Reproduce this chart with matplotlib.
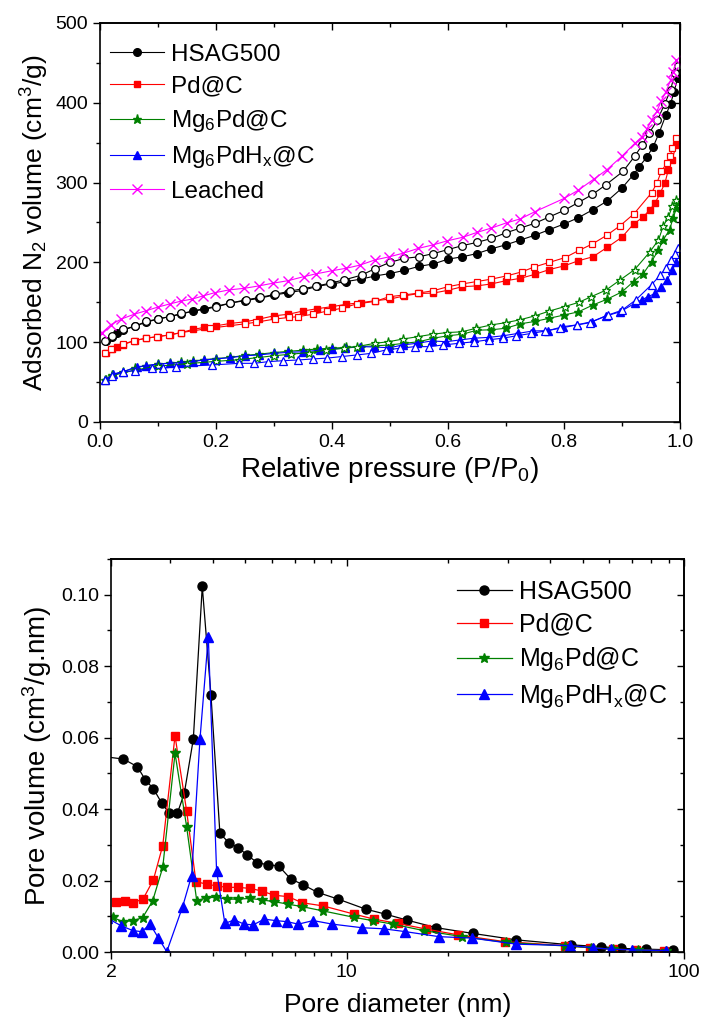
import numpy as np
import matplotlib
matplotlib.use('Agg')
from matplotlib import pyplot as plt
from matplotlib.ticker import MultipleLocator, FixedLocator, NullFormatter, FixedFormatter

plt.rcParams['font.family'] = ['Liberation Sans', 'DejaVu Sans']
plt.rcParams['mathtext.default'] = 'regular'

# ---- N2 isotherms (top) ----
hsag_ads_p = [0.01, 0.02, 0.03, 0.04, 0.06, 0.08, 0.10, 0.12, 0.14, 0.16, 0.18, 0.20, 0.225, 0.25, 0.275, 0.30,
              0.325, 0.35, 0.375, 0.40, 0.425, 0.45, 0.475, 0.50, 0.525, 0.55, 0.575, 0.60, 0.625, 0.65, 0.675,
              0.70, 0.725, 0.75, 0.775, 0.80, 0.825, 0.85, 0.875, 0.90, 0.92, 0.93, 0.943, 0.954, 0.964, 0.976,
              0.984, 0.99, 0.996]
hsag_ads_v = [101, 107, 111, 115, 120, 125, 129, 132, 135, 139, 142, 145, 149, 152, 155, 159,
              162, 165, 170, 173, 176, 179, 183, 186, 190, 195, 198, 204, 207, 211, 217,
              222, 228, 234, 241, 248, 256, 266, 277, 293, 310, 320, 332, 345, 362, 385,
              399, 414, 431]
hsag_des_p = [0.996, 0.991, 0.984, 0.974, 0.961, 0.947, 0.935, 0.922, 0.902, 0.872, 0.849, 0.825, 0.80, 0.775,
              0.75, 0.725, 0.70, 0.675, 0.65, 0.625, 0.60, 0.575, 0.55, 0.525, 0.50, 0.474, 0.451, 0.421, 0.397,
              0.372, 0.35, 0.328, 0.302, 0.276, 0.251, 0.225, 0.20, 0.14, 0.12, 0.10, 0.08, 0.06, 0.04, 0.02, 0.009]
hsag_des_v = [446, 437, 416, 399, 378, 362, 347, 333, 314, 297, 285, 275, 265, 257,
              249, 243, 237, 230, 225, 221, 216, 211, 207, 205, 200, 192, 184, 178, 174,
              170, 167, 164, 160, 156, 153, 149, 144, 136, 132, 129, 126, 120, 116, 108, 101]

pd_ads_p = [0.01, 0.02, 0.03, 0.04, 0.06, 0.08, 0.10, 0.12, 0.14, 0.16, 0.18, 0.20, 0.225, 0.25, 0.275, 0.30,
            0.325, 0.35, 0.375, 0.40, 0.425, 0.45, 0.475, 0.50, 0.525, 0.55, 0.575, 0.60, 0.625, 0.65, 0.675,
            0.70, 0.725, 0.75, 0.775, 0.80, 0.825, 0.85, 0.875, 0.90, 0.92, 0.937, 0.948, 0.957, 0.966, 0.974,
            0.98, 0.986, 0.994]
pd_ads_v = [86, 91, 94, 97, 102, 105, 107, 109, 112, 116, 118.5, 120.5, 123.5, 125.5, 129, 133,
            135, 139, 142, 144.5, 147.5, 149.5, 152, 154, 158, 161, 161.5, 165, 169.5, 170.5, 173,
            177, 180, 185, 191, 195.5, 202, 207, 219, 231.5, 248, 257, 266, 274, 287, 299,
            316, 328, 347]
pd_des_p = [0.994, 0.987, 0.983, 0.977, 0.968, 0.96, 0.951, 0.921, 0.897, 0.874, 0.849, 0.826, 0.802, 0.775,
            0.748, 0.727, 0.701, 0.675, 0.65, 0.625, 0.60, 0.575, 0.549, 0.523, 0.499, 0.474, 0.443, 0.417,
            0.392, 0.367, 0.342, 0.326, 0.302, 0.269, 0.25, 0.19, 0.14, 0.119, 0.099, 0.08, 0.059, 0.04,
            0.019, 0.009]
pd_des_v = [356, 343, 333, 324, 314, 299, 287, 261, 246, 234, 223, 215, 206, 200,
            194, 188, 183, 179, 176, 173, 169.5, 164.5, 161.5, 159, 157, 151, 148, 142.5,
            139, 135, 132, 131, 129, 125, 123, 117.5, 112, 109, 107, 105, 102, 97.5,
            91, 86]

mg_ads_p = [0.01, 0.02, 0.04, 0.06, 0.08, 0.10, 0.12, 0.14, 0.16, 0.18, 0.20, 0.225, 0.25, 0.275, 0.30,
            0.325, 0.35, 0.375, 0.40, 0.425, 0.45, 0.475, 0.50, 0.525, 0.55, 0.575, 0.60, 0.625, 0.65, 0.675,
            0.70, 0.725, 0.75, 0.775, 0.80, 0.825, 0.85, 0.875, 0.90, 0.92, 0.937, 0.951, 0.963, 0.971, 0.982,
            0.988, 0.994, 0.997]
mg_ads_v = [52, 59, 63, 68, 70.5, 72.5, 74, 75, 76.5, 78, 79.5, 81, 83.5, 85, 87,
            88.5, 90, 91.5, 92.5, 93.5, 94.5, 95.5, 96.5, 98.6, 100.6, 105, 108, 110, 115, 115.5,
            117.5, 123, 126, 130, 134, 138, 146.6, 154, 163, 176, 186, 201, 215.5, 228, 240.6,
            255, 268, 274]
mg_des_p = [0.993, 0.987, 0.98, 0.971, 0.963, 0.948, 0.922, 0.897, 0.872, 0.847, 0.826, 0.801, 0.775, 0.75,
            0.724, 0.70, 0.674, 0.649, 0.624, 0.598, 0.574, 0.549, 0.523, 0.497, 0.474, 0.443, 0.42, 0.39,
            0.36, 0.33, 0.30, 0.27, 0.24, 0.20, 0.15, 0.10, 0.06, 0.02, 0.009]
mg_des_v = [278, 270, 257, 245, 228, 213, 191, 178, 165, 157, 150, 144.5, 139, 133,
            128, 124.5, 121.5, 117.5, 113, 112, 110, 107, 104, 100.5, 98.6, 94.4, 92.4, 90,
            87, 85, 83, 80.5, 78, 76, 73, 70, 65, 58, 52]

mgh_ads_p = [0.009, 0.022, 0.04, 0.063, 0.08, 0.10, 0.12, 0.139, 0.16, 0.179, 0.20, 0.224, 0.25, 0.275, 0.30,
             0.325, 0.35, 0.38, 0.40, 0.422, 0.448, 0.472, 0.499, 0.522, 0.546, 0.572, 0.597, 0.621, 0.645,
             0.67, 0.695, 0.721, 0.746, 0.773, 0.798, 0.822, 0.848, 0.872, 0.897, 0.922, 0.934, 0.945, 0.957,
             0.968, 0.978, 0.987, 0.994]
mgh_ads_v = [52.6, 60, 63, 69, 70.6, 72.7, 73.5, 74.3, 75.6, 77.7, 79, 80.6, 83, 84, 86,
             87.3, 88, 90, 91.5, 92.4, 94.4, 94, 93, 96.5, 98.6, 101.5, 100.6, 102.8, 105,
             106, 108, 111, 114, 114.5, 119.4, 121.6, 125.7, 132.8, 138, 148.7, 153, 157, 161,
             169.6, 178, 190.5, 201]
mgh_des_p = [0.996, 0.991, 0.984, 0.976, 0.966, 0.951, 0.924, 0.90, 0.876, 0.845, 0.822, 0.793, 0.768, 0.744,
             0.718, 0.695, 0.67, 0.645, 0.619, 0.592, 0.568, 0.543, 0.517, 0.493, 0.468, 0.443, 0.417, 0.391,
             0.367, 0.342, 0.316, 0.29, 0.266, 0.24, 0.193, 0.131, 0.108, 0.089, 0.06, 0.04, 0.02, 0.009]
mgh_des_v = [218, 211, 203, 193, 184, 172, 153, 140, 134, 124.4, 121.6, 117.4, 114, 111,
             108, 105, 103, 100.5, 98.6, 96.5, 94.4, 94.4, 92.4, 90.2, 86, 84, 82, 80,
             79, 77.7, 76.8, 75.6, 73.5, 73.5, 71.4, 69.3, 67.3, 67.3, 64.3, 63, 58, 52.6]

leach_p = [0.004, 0.019, 0.037, 0.059, 0.08, 0.10, 0.121, 0.14, 0.159, 0.178, 0.198, 0.223, 0.249, 0.274,
           0.299, 0.324, 0.351, 0.372, 0.40, 0.424, 0.448, 0.474, 0.499, 0.523, 0.549, 0.575, 0.599, 0.626,
           0.65, 0.675, 0.701, 0.725, 0.75, 0.80, 0.825, 0.851, 0.874, 0.90, 0.922, 0.935, 0.943, 0.951,
           0.96, 0.968, 0.976, 0.984, 0.988, 0.994]
leach_v = [112, 122, 129, 135, 139.5, 144, 148, 151.5, 154, 158, 162, 165.5, 167.5, 170.5,
           174, 177, 182, 185.5, 189.5, 192.5, 196.5, 203, 207, 211.5, 217.5, 222, 227, 231.5,
           237.5, 243, 249.5, 254.5, 263.5, 280, 290.5, 304, 316, 333, 349, 357.5, 367, 378,
           389, 402.5, 414, 428.5, 439, 453.5]

# ---- pore size distribution (bottom) ----
hsag_d = [1.9, 2.175, 2.392, 2.527, 2.67, 2.83, 2.977, 3.144, 3.297, 3.507, 3.728, 3.955, 4.205, 4.47, 4.77,
          5.07, 5.43, 5.85, 6.28, 6.81, 7.43, 8.19, 9.43, 11.38, 13.03, 15.13, 18.44, 23.67, 31.8, 46.3,
          56.8, 65.1, 77.3, 92.6]
hsag_pv = [0.0547, 0.0540, 0.0519, 0.0482, 0.0457, 0.0416, 0.0388, 0.0388, 0.0444, 0.0596, 0.1023, 0.0720,
           0.0332, 0.0306, 0.0292, 0.0271, 0.0250, 0.0244, 0.0241, 0.0205, 0.0188, 0.0167, 0.0148, 0.0120,
           0.0106, 0.0089, 0.0068, 0.0052, 0.0034, 0.0020, 0.0015, 0.0010, 0.0008, 0.0006]
pd_d = [2.064, 2.2, 2.33, 2.49, 2.67, 2.846, 3.095, 3.35, 3.57, 3.84, 4.11, 4.42, 4.77, 5.16, 5.59, 6.08,
        6.70, 7.37, 8.51, 10.52, 12.05, 14.19, 17.23, 21.39, 29.4, 44.3, 52.5, 61.5, 72.1, 87.5]
pd_pv = [0.0140, 0.0144, 0.0138, 0.0149, 0.0202, 0.0298, 0.0605, 0.0395, 0.0197, 0.0190, 0.0185, 0.0181,
         0.0181, 0.0178, 0.0171, 0.0159, 0.0155, 0.0138, 0.0129, 0.0106, 0.0092, 0.0080, 0.0064, 0.0048,
         0.0029, 0.0018, 0.0012, 0.0008, 0.0006, 0.0004]
mg_d = [2.023, 2.166, 2.32, 2.48, 2.656, 2.846, 3.095, 3.35, 3.59, 3.82, 4.09, 4.42, 4.77, 5.16, 5.59, 6.08,
        6.70, 7.37, 8.51, 10.52, 11.92, 13.72, 16.9, 22.03, 29.6, 44.3, 53.1, 61.5, 72.9, 88.5]
mg_pv = [0.0097, 0.0085, 0.0088, 0.0096, 0.0143, 0.0237, 0.0556, 0.0351, 0.0143, 0.0152, 0.0153, 0.0148,
         0.0148, 0.0150, 0.0146, 0.0141, 0.0134, 0.0127, 0.0115, 0.0097, 0.0088, 0.0078, 0.0060, 0.0043,
         0.0027, 0.0017, 0.0012, 0.0008, 0.0006, 0.0004]
mgh_d = [1.95, 2.137, 2.32, 2.466, 2.61, 2.76, 2.925, 3.26, 3.467, 3.67, 3.885, 4.11, 4.35, 4.64, 4.96, 5.28,
         5.69, 6.15, 6.65, 7.18, 7.95, 9.07, 11.1, 12.87, 14.93, 18.77, 23.5, 31.8, 45.9, 53.7, 60.6, 70.3,
         88.5]
mgh_pv = [0.0095, 0.0074, 0.0060, 0.0057, 0.0078, 0.0040, 0.0001, 0.0127, 0.0214, 0.0596, 0.0883, 0.0228,
          0.0080, 0.0090, 0.0078, 0.0076, 0.0092, 0.0088, 0.0085, 0.0078, 0.0088, 0.0078, 0.0068, 0.0065,
          0.0057, 0.0043, 0.0039, 0.0022, 0.0018, 0.0012, 0.0008, 0.0006, 0.0004]

labels = ['HSAG500', 'Pd@C', 'Mg$_6$Pd@C', 'Mg$_6$PdH$_x$@C', 'Leached']
colors = ['black', 'red', 'green', 'blue', 'magenta']
markers = ['o', 's', '*', '^', 'x']
ms_top = [5.5, 5, 6.5, 5.5, 6.5]
ms_bot = [6.5, 5.5, 7.5, 6.5]

fig = plt.figure(figsize=(7.03, 10.26), dpi=100)

ax1 = fig.add_axes([0.1422, 0.5887, 0.825, 0.389])
iso = [(hsag_ads_p, hsag_ads_v, hsag_des_p, hsag_des_v),
       (pd_ads_p, pd_ads_v, pd_des_p, pd_des_v),
       (mg_ads_p, mg_ads_v, mg_des_p, mg_des_v),
       (mgh_ads_p, mgh_ads_v, mgh_des_p, mgh_des_v)]
for i, (ap, av, dp, dv) in enumerate(iso):
    ax1.plot(ap, av, color=colors[i], marker=markers[i], ms=ms_top[i], lw=0.8,
             mec=colors[i], mfc=colors[i], label=labels[i])
for i, (ap, av, dp, dv) in enumerate(iso):
    ax1.plot(dp, dv, color=colors[i], marker=markers[i], ms=ms_top[i], lw=0.8,
             mec=colors[i], mfc='white', mew=0.9)
ax1.plot(leach_p, leach_v, color=colors[4], marker='x', ms=ms_top[4], mew=1.0, lw=0.8, label=labels[4])

ax1.set_xlim(0, 1.0)
ax1.set_ylim(0, 500)
ax1.xaxis.set_major_locator(MultipleLocator(0.2))
ax1.xaxis.set_minor_locator(MultipleLocator(0.1))
ax1.yaxis.set_major_locator(MultipleLocator(100))
ax1.yaxis.set_minor_locator(MultipleLocator(50))
ax1.xaxis.set_major_formatter(matplotlib.ticker.FormatStrFormatter('%.1f'))
ax1.set_xlabel('Relative pressure (P/P$_0$)', fontsize=20, labelpad=3)
ax1.set_ylabel('Adsorbed N$_2$ volume (cm$^3$/g)', fontsize=19, labelpad=3)
ax1.legend(loc='upper left', frameon=False, fontsize=17.5, handlelength=2.2, handletextpad=0.3,
           labelspacing=0.42, borderpad=0, borderaxespad=0, bbox_to_anchor=(0.018, 0.948))

ax2 = fig.add_axes([0.158, 0.0721, 0.815, 0.3831])
pore = [(hsag_d, hsag_pv), (pd_d, pd_pv), (mg_d, mg_pv), (mgh_d, mgh_pv)]
for i, (d, v) in enumerate(pore):
    ax2.plot(d, v, color=colors[i], marker=markers[i], ms=ms_bot[i], lw=0.9,
             mec=colors[i], mfc=colors[i], label=labels[i])
ax2.set_xscale('log')
ax2.set_xlim(2, 100)
ax2.set_ylim(0, 0.11)
ax2.xaxis.set_major_locator(FixedLocator([2, 10, 100]))
ax2.xaxis.set_major_formatter(FixedFormatter(['2', '10', '100']))
ax2.xaxis.set_minor_locator(FixedLocator([3, 4, 5, 6, 7, 8, 9, 20, 30, 40, 50, 60, 70, 80, 90]))
ax2.xaxis.set_minor_formatter(NullFormatter())
ax2.yaxis.set_major_locator(MultipleLocator(0.02))
ax2.yaxis.set_minor_locator(MultipleLocator(0.01))
ax2.yaxis.set_major_formatter(matplotlib.ticker.FormatStrFormatter('%.2f'))
ax2.set_xlabel('Pore diameter (nm)', fontsize=19, labelpad=9)
ax2.set_ylabel('Pore volume (cm$^3$/g.nm)', fontsize=20, labelpad=5)
ax2.legend(loc='upper left', frameon=False, fontsize=18, handlelength=2.2, handletextpad=0.3,
           labelspacing=0.35, borderpad=0, borderaxespad=0, bbox_to_anchor=(0.603, 0.947))

for ax in (ax1, ax2):
    ax.tick_params(which='both', direction='out', labelsize=14, width=1.0, top=False, right=False)
    ax.tick_params(which='major', length=5)
    ax.tick_params(which='minor', length=3)
    for s in ax.spines.values():
        s.set_linewidth(1.2)
    # mirrored ticks on the top and right edges, pointing inward
    tx = ax.secondary_xaxis('top')
    tx.set_xscale(ax.get_xscale())
    tx.xaxis.set_major_locator(ax.xaxis.get_major_locator())
    tx.xaxis.set_minor_locator(ax.xaxis.get_minor_locator())
    tx.tick_params(which='both', direction='in', labeltop=False, width=1.0)
    tx.tick_params(which='major', length=5)
    tx.tick_params(which='minor', length=3)
    tx.spines['top'].set_linewidth(1.2)
    ty = ax.secondary_yaxis('right')
    ty.yaxis.set_major_locator(ax.yaxis.get_major_locator())
    ty.yaxis.set_minor_locator(ax.yaxis.get_minor_locator())
    ty.tick_params(which='both', direction='in', labelright=False, width=1.0)
    ty.tick_params(which='major', length=5)
    ty.tick_params(which='minor', length=3)
    ty.spines['right'].set_linewidth(1.2)

fig.savefig('out.png', dpi=100)
